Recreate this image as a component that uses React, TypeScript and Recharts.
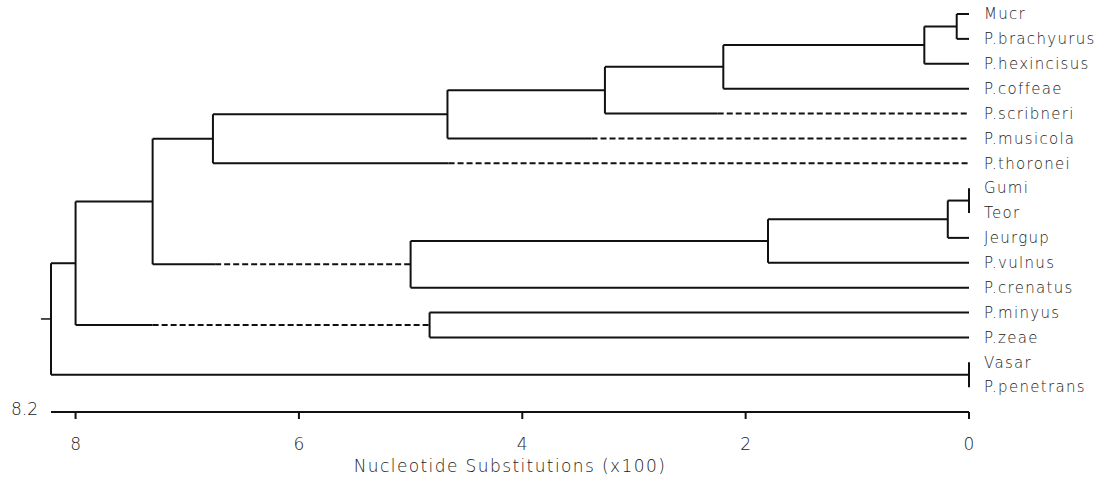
import React from 'react';
import { ComposedChart, XAxis, YAxis, ReferenceLine, ReferenceDot, Scatter, Label } from 'recharts';

// leaves, top to bottom
const leaves = [
  'Mucr', 'P.brachyurus', 'P.hexincisus', 'P.coffeae', 'P.scribneri', 'P.musicola', 'P.thoronei',
  'Gumi', 'Teor', 'Jeurgup', 'P.vulnus', 'P.crenatus', 'P.minyus', 'P.zeae', 'Vasar', 'P.penetrans',
];

// [node, child a, child b, height (x100 substitutions)]
const merges: [string, string, string, number][] = [
  ['A', 'Mucr', 'P.brachyurus', 0.11],
  ['B', 'A', 'P.hexincisus', 0.4],
  ['C', 'B', 'P.coffeae', 2.2],
  ['D', 'C', 'P.scribneri', 3.26],
  ['E', 'D', 'P.musicola', 4.67],
  ['F', 'E', 'P.thoronei', 6.77],
  ['G', 'Gumi', 'Teor', 0],
  ['H', 'G', 'Jeurgup', 0.19],
  ['I', 'H', 'P.vulnus', 1.8],
  ['J', 'I', 'P.crenatus', 5.0],
  ['K', 'F', 'J', 7.31],
  ['L', 'P.minyus', 'P.zeae', 4.83],
  ['M', 'K', 'L', 8.0],
  ['N', 'Vasar', 'P.penetrans', 0],
  ['R', 'M', 'N', 8.22],
];

// branches drawn dashed from this height down to the child
const dashFrom: Record<string, number> = {
  'P.scribneri': 2.25,
  'P.musicola': 3.38,
  'P.thoronei': 4.66,
  J: 6.75,
  L: 7.31,
};

const xTicks = [0, 2, 4, 6, 8];
const rootStub = 8.31;

const pos: Record<string, number> = {};
const hgt: Record<string, number> = {};
leaves.forEach((n, i) => { pos[n] = i; hgt[n] = 0; });

type Seg = { x1: number; y1: number; x2: number; y2: number; dashed: boolean };
const segs: Seg[] = [];
merges.forEach(([id, a, b, h]) => {
  pos[id] = (pos[a] + pos[b]) / 2;
  hgt[id] = h;
  segs.push({ x1: h, y1: pos[a], x2: h, y2: pos[b], dashed: false });
  [a, b].forEach(c => {
    const d = dashFrom[c];
    if (d !== undefined) {
      segs.push({ x1: h, y1: pos[c], x2: d, y2: pos[c], dashed: false });
      segs.push({ x1: d, y1: pos[c], x2: hgt[c], y2: pos[c], dashed: true });
    } else {
      segs.push({ x1: h, y1: pos[c], x2: hgt[c], y2: pos[c], dashed: false });
    }
  });
});

const leafPoints = leaves.map((n, i) => ({ x: 0, y: i, name: n }));

const FONT = '"DejaVu Sans", sans-serif';
const INK = '#111';
const TEXT = '#222';

export default function App() {
  return (
    <div style={{ width: 1104, height: 481, background: '#fff' }}>
      <style>{'body{margin:0}'}</style>
      <ComposedChart width={1104} height={481} margin={{ top: 14, right: 0, bottom: 9, left: 51 }}>
        <XAxis
          type="number"
          dataKey="x"
          domain={[0, 8.22]}
          reversed
          ticks={xTicks}
          tickSize={7}
          tickMargin={19}
          height={60}
          stroke={TEXT}
          axisLine={{ stroke: INK, strokeWidth: 2 }}
          tickLine={{ stroke: INK, strokeWidth: 2 }}
          tick={{ fill: TEXT, fontSize: 17, fontFamily: FONT, fontWeight: 300 }}
          allowDataOverflow
        >
          <Label
            value="Nucleotide Substitutions (x100)"
            position="insideBottom"
            offset={0}
            style={{ fill: TEXT, fontSize: 17, fontFamily: FONT, fontWeight: 300, letterSpacing: 1.4 }}
          />
        </XAxis>
        <YAxis
          type="number"
          dataKey="y"
          orientation="right"
          domain={[0, 16]}
          reversed
          ticks={leaves.map((_, i) => i)}
          tickFormatter={(v: number) => leaves[v] ?? ''}
          width={135}
          stroke={TEXT}
          axisLine={false}
          tickLine={false}
          tickSize={0}
          tickMargin={15}
          tick={{ fill: TEXT, fontSize: 15, fontFamily: FONT, fontWeight: 300, letterSpacing: 1.3 }}
          interval={0}
          allowDataOverflow
        />
        <Scatter data={leafPoints} isAnimationActive={false} shape={() => <g />} />
        {segs.map((s, i) => (
          <ReferenceLine
            key={i}
            segment={[{ x: s.x1, y: s.y1 }, { x: s.x2, y: s.y2 }]}
            stroke={INK}
            strokeWidth={2}
            strokeDasharray={s.dashed ? '6 3' : undefined}
            ifOverflow="visible"
          />
        ))}
        <ReferenceLine
          segment={[{ x: hgt.R, y: pos.R }, { x: rootStub, y: pos.R }]}
          stroke={INK}
          strokeWidth={1.5}
          ifOverflow="visible"
        />
        <ReferenceDot
          x={8.22}
          y={15.86}
          r={0}
          ifOverflow="visible"
          label={{ value: '8.2', position: 'left', offset: 13, fill: TEXT, fontSize: 17, fontFamily: FONT, fontWeight: 300 }}
        />
      </ComposedChart>
    </div>
  );
}
